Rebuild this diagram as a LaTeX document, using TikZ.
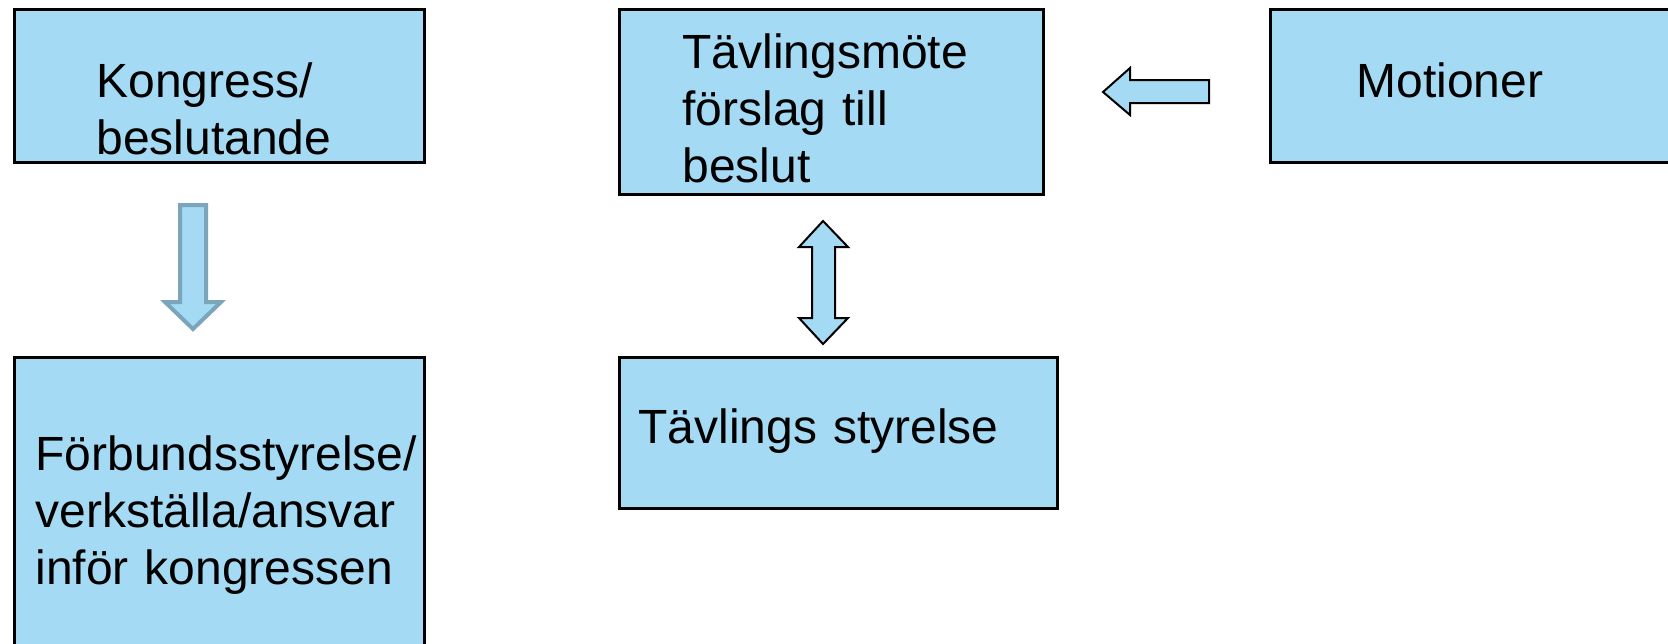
\documentclass[tikz,border=0pt]{standalone}
\usepackage{fontspec}
\setmainfont{Liberation Sans}
\definecolor{boxblue}{RGB}{164,218,243}
\definecolor{arrowedge}{RGB}{122,165,187}
\tikzset{
  box/.style={draw=black, line width=1.3pt, fill=boxblue, anchor=north west, inner sep=0pt},
  label/.style={anchor=base west, inner sep=0pt, text width=210pt, align=left,
    font=\fontsize{24}{28.5}\selectfont},
  blockarrow/.style={draw=black, line width=1pt, fill=boxblue, line join=miter}
}
\begin{document}
\begin{tikzpicture}[x=0.5pt,y=-0.5pt]
    \useasboundingbox (0,0) rectangle (1668,643);
    \clip (0,0) rectangle (1668,643);

    % boxes
    \node[box, minimum width=205pt, minimum height=76.5pt] (kongress) at (13,8) {};
    \node[box, minimum width=205pt, minimum height=172pt] (forbund) at (13,356) {};
    \node[box, minimum width=212pt, minimum height=92.5pt] (tavlingsmote) at (618,8) {};
    \node[box, minimum width=219pt, minimum height=75.5pt] (styrelse) at (618,356) {};
    \node[box, minimum width=226pt, minimum height=76.5pt] (motioner) at (1269,8) {};

    % texts
    \node[label] (kongresstext) at (96,97) {Kongress/\\beslutande};
    \node[label] (forbundtext) at (35,470) {Förbundsstyrelse/\\verkställa/ansvar\\inför kongressen};
    \node[label] (motetext) at (682,68) {Tävlingsmöte\\förslag till\\beslut};
    \node[label] (styrelsetext) at (638,443) {Tävlings styrelse};
    \node[label] (motionertext) at (1356,97) {Motioner};

    % arrows
    \draw[blockarrow, draw=arrowedge, line width=2pt]
        (180,205) -- (206,205) -- (206,302) -- (221,302) -- (193,329)
        -- (165,302) -- (180,302) -- cycle;
    \draw[blockarrow]
        (1209,80) -- (1130,80) -- (1130,68) -- (1103,92) -- (1130,115)
        -- (1130,103) -- (1209,103) -- cycle;
    \draw[blockarrow]
        (823,221) -- (848,247) -- (835,247) -- (835,318) -- (848,318) -- (823,344)
        -- (799,318) -- (812,318) -- (812,247) -- (799,247) -- cycle;
\end{tikzpicture}
\end{document}
